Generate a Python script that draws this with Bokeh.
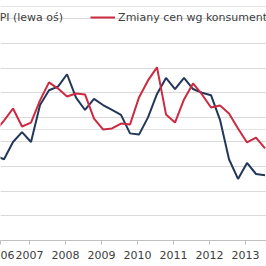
from bokeh.plotting import figure
from bokeh.models import Range1d, FixedTicker, Grid, Legend, LegendItem
from bokeh.embed import file_html
from bokeh.resources import INLINE

# ---- data (quarterly) ----
quarters = [f"{y}Q{q}" for y in range(2006, 2014) for q in range(1, 5)][:31]
ppi = [2.9, 2.6, 4.0, 4.8, 4.0, 7.0, 8.2, 8.5, 9.5, 7.6, 6.6, 7.5, 7.0, 6.6, 6.2, 4.7,
       4.6, 6.0, 7.9, 9.2, 8.3, 9.2, 8.3, 8.0, 7.8, 5.8, 2.6, 1.0, 2.3, 1.4, 1.3]
cpi_perc = [44.3, 48.7, 53.6, 46.3, 47.9, 56.9, 64.2, 61.7, 58.5, 59.7, 59.3, 49.5, 45.1,
            45.5, 47.5, 47.1, 58.1, 65.0, 70.3, 51.2, 47.9, 57.3, 63.8, 59.3, 54.0, 54.8,
            51.6, 45.5, 39.8, 41.8, 37.4]
years = [2006, 2007, 2008, 2009, 2010, 2011, 2012, 2013]
left_ticks = [-4, -2, 0, 2, 4, 6, 8, 10, 12, 14]
series_names = ["PPI (lewa oś)", "Zmiany cen wg konsumentów (prawa oś)"]
first_year_visible = "06"   # the 2006 label is cut at the left edge in the source crop

# positions: quarter -> mid of first month of quarter
xs = [int(s[:4]) + (int(s[-1]) - 1) / 4 + 1 / 24 for s in quarters]

X0, X1 = 2006.194, 2013.583
NAVY = "#22375A"
RED = "#CC2A41"
FONT = "DejaVu Sans"
TXT = "#404040"

p = figure(frame_width=266, frame_height=240, output_backend="svg", toolbar_location=None,
           x_range=Range1d(X0, X1), y_range=Range1d(-4, 15.49),
           y_axis_location=None, min_border=0, min_border_left=0, min_border_right=0,
           min_border_top=0, min_border_bottom=0)
p.outline_line_color = None
p.background_fill_color = "white"
p.border_fill_color = "white"
p.extra_y_ranges = {"right": Range1d(0, 97.46)}

p.add_layout(Grid(dimension=1, ticker=FixedTicker(ticks=left_ticks),
                  grid_line_color="#D9D9D9", grid_line_width=1))
p.xgrid.visible = False

edge = X0 + 0.001
ax = p.xaxis[0]
ax.ticker = FixedTicker(ticks=[edge] + years[1:])
ax.major_label_overrides = {edge: first_year_visible}
ax.axis_line_color = "#BFBFBF"
ax.major_tick_line_color = "#BFBFBF"
ax.major_tick_in = 0
ax.major_tick_out = 4
ax.minor_tick_line_color = None
ax.major_label_standoff = 6
ax.major_label_text_font = FONT
ax.major_label_text_font_size = "11px"
ax.major_label_text_color = TXT

r1 = p.line(xs, ppi, line_color=NAVY, line_width=2)
r2 = p.line(xs, cpi_perc, line_color=RED, line_width=2, y_range_name="right")

leg = Legend(items=[LegendItem(label=series_names[0], renderers=[r1]),
                    LegendItem(label=series_names[1], renderers=[r2])],
             orientation="horizontal", location=(-35, 213), padding=0, margin=0,
             glyph_width=25, glyph_height=20, label_height=20, label_standoff=3, spacing=27,
             border_line_alpha=0, background_fill_alpha=0,
             label_text_font=FONT, label_text_font_size="11px", label_text_color=TXT)
p.add_layout(leg, "center")

open("out.html", "w").write(file_html(p, INLINE))
